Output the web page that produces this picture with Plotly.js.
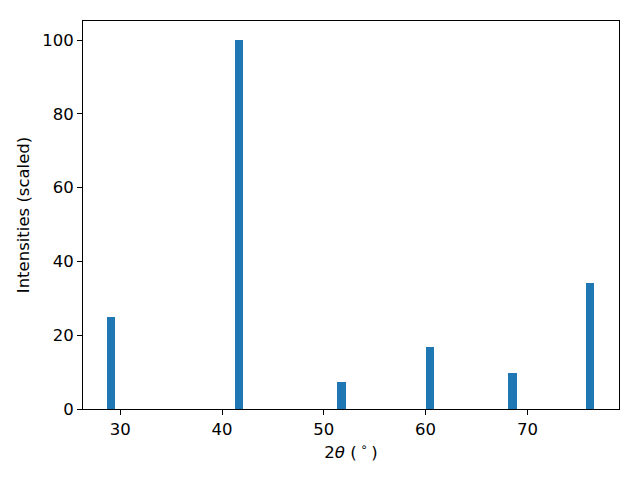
<!DOCTYPE html>
<html>
<head>
<meta charset="utf-8">
<script src="https://cdn.plot.ly/plotly-3.0.1.min.js"></script>
<style>html,body{margin:0;padding:0;background:#fff;}#chart{width:640px;height:480px;}</style>
</head>
<body>
<div id="chart"></div>
<script>
// Peak positions (2θ, degrees) and scaled intensities
const twoTheta = [29.12, 41.70, 51.73, 60.44, 68.53, 76.19];
const intensity = [25.0, 100.0, 7.3, 16.8, 9.8, 34.1];
const xTicks = [30, 40, 50, 60, 70];
const yTicks = [0, 20, 40, 60, 80, 100];

const F = 'DejaVu Sans, sans-serif';
const fnt = {family: F, size: 16.5, color: '#000'};

Plotly.newPlot('chart', [{
  type: 'bar',
  x: twoTheta,
  y: intensity,
  width: 0.8,
  marker: {color: '#1f77b4', line: {width: 0}},
  hoverinfo: 'skip'
}], {
  width: 640, height: 480,
  margin: {l: 83, r: 21, t: 21, b: 71, pad: 0},
  paper_bgcolor: '#fff', plot_bgcolor: '#fff',
  font: fnt,
  showlegend: false,
  bargap: 0,
  xaxis: {
    range: [26.34, 79.0],
    tickvals: xTicks, ticktext: xTicks.map(String),
    ticks: 'outside', ticklen: 5, tickwidth: 1, tickcolor: '#000',
    showline: true, linecolor: '#000', linewidth: 1, mirror: true,
    showgrid: false, zeroline: false,
    tickfont: fnt,
    title: {text: '2<i>θ</i> (<sup> ∘ </sup>)', font: fnt, standoff: 8}
  },
  yaxis: {
    range: [0, 105.15],
    tickvals: yTicks, ticktext: yTicks.map(String),
    ticks: 'outside', ticklen: 5, tickwidth: 1, tickcolor: '#000',
    showline: true, linecolor: '#000', linewidth: 1, mirror: true,
    showgrid: false, zeroline: false,
    tickfont: fnt,
    title: {text: 'Intensities (scaled)', font: fnt, standoff: 8}
  }
}, {staticPlot: true, displayModeBar: false});
</script>
</body>
</html>
